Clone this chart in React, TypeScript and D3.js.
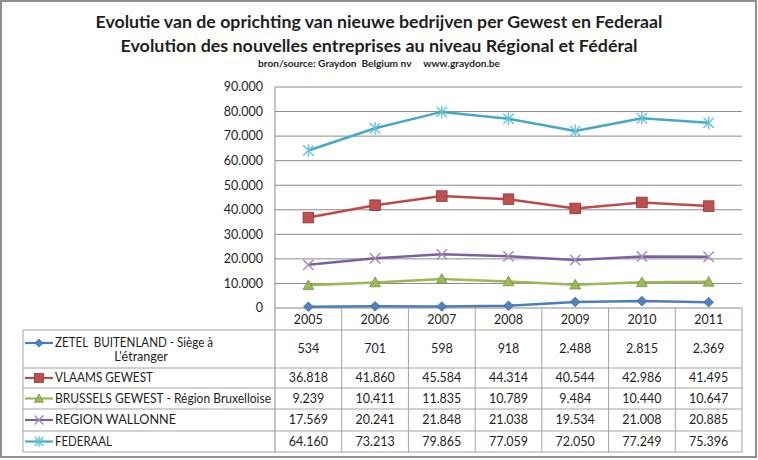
import React from 'react';
import * as d3 from 'd3';

const years = ['2005', '2006', '2007', '2008', '2009', '2010', '2011'];
const zetel = [534, 701, 598, 918, 2488, 2815, 2369];
const vlaams = [36818, 41860, 45584, 44314, 40544, 42986, 41495];
const brussels = [9239, 10411, 11835, 10789, 9484, 10440, 10647];
const wallonne = [17569, 20241, 21848, 21038, 19534, 21008, 20885];
const federaal = [64160, 73213, 79865, 77059, 72050, 77249, 75396];
const yTicks = [0, 10000, 20000, 30000, 40000, 50000, 60000, 70000, 80000, 90000];

const seriesLabels: string[][] = [
  ['ZETEL  BUITENLAND - Siège à', "L'étranger"],
  ['VLAAMS GEWEST'],
  ['BRUSSELS GEWEST - Région Bruxelloise'],
  ['REGION WALLONNE'],
  ['FEDERAAL'],
];
const titleLines = [
  'Evolutie van de oprichting van nieuwe bedrijven per Gewest en Federaal',
  'Evolution des nouvelles entreprises au niveau Régional et Fédéral',
];
const sourceText = 'bron/source: Graydon  Belgium nv     www.graydon.be';

const series = [
  { values: zetel, line: '#4A7EBB', fill: '#4F81BD', stroke: '#3A67A0', marker: 'diamond' },
  { values: vlaams, line: '#BE4B48', fill: '#C0504D', stroke: '#8C3836', marker: 'square' },
  { values: brussels, line: '#98B954', fill: '#9BBB59', stroke: '#76923C', marker: 'triangle' },
  { values: wallonne, line: '#7D60A0', fill: 'none', stroke: '#9F8AC0', marker: 'x' },
  { values: federaal, line: '#46AAC5', fill: 'none', stroke: '#66C3DA', marker: 'star' },
];

const labelWidths = [158, 98, 216, 121, 57];

const fmt = d3.formatLocale({ decimal: ',', thousands: '.', grouping: [3], currency: ['', ''] }).format(',d');

function Marker({ type, cx, cy, fill, stroke, scale = 1 }: any) {
  const s = scale;
  if (type === 'diamond') {
    const r = 4.8 * s;
    return <path d={`M${cx},${cy - r}L${cx + r},${cy}L${cx},${cy + r}L${cx - r},${cy}Z`} fill={fill} stroke={stroke} strokeWidth={0.8} />;
  }
  if (type === 'square') {
    const r = 5.3 * s;
    return <rect x={cx - r} y={cy - r} width={2 * r} height={2 * r} fill={fill} stroke={stroke} strokeWidth={0.8} />;
  }
  if (type === 'triangle') {
    const r = 5.4 * s;
    return <path d={`M${cx},${cy - r}L${cx + r},${cy + r * 0.8}L${cx - r},${cy + r * 0.8}Z`} fill={fill} stroke={stroke} strokeWidth={0.8} />;
  }
  if (type === 'x') {
    const r = 5.2 * s;
    return <path d={`M${cx - r},${cy - r}L${cx + r},${cy + r}M${cx - r},${cy + r}L${cx + r},${cy - r}`} stroke={stroke} strokeWidth={1.4} fill="none" />;
  }
  const r = 5.2 * s;
  return <path d={`M${cx - r},${cy - r}L${cx + r},${cy + r}M${cx - r},${cy + r}L${cx + r},${cy - r}M${cx},${cy - r * 1.2}L${cx},${cy + r * 1.2}`} stroke={stroke} strokeWidth={1.4} fill="none" />;
}

export default function App() {
  const W = 758, H = 460;
  const left = 275, right = 742, top = 87, bottom = 308;
  const tableLeft = 23;
  const rowEdges = [330, 368, 388, 409, 431, 452];
  const x = d3.scaleBand<string>().domain(years).range([left, right]);
  const bw = x.bandwidth();
  const cxOf = (i: number) => (x(years[i]) as number) + bw / 2;
  const y = d3.scaleLinear().domain([0, 90000]).range([bottom, top]);
  const line = d3.line<number>().x((_, i) => cxOf(i)).y((d) => y(d));
  const font = 'Lato, "Noto Sans", sans-serif';
  const textColor = '#1f1f1f';
  const gridColor = '#8a8a8a';
  const tableColor = '#a3a3a3';
  const pre = { whiteSpace: 'pre' as const };

  return (
    <svg width={W} height={H} style={{ position: 'absolute', left: 0, top: 0, background: '#fff' }} fontFamily={font}>
      <rect x={0} y={0} width={W} height={H} fill="#fff" />
      <rect x={1} y={1} width={755} height={456} fill="none" stroke="#8f8f8f" strokeWidth={2} />

      {/* Titles */}
      <text x={379} y={28} textAnchor="middle" fontSize={17} fontWeight="bold" fill={textColor} textLength={567} lengthAdjust="spacingAndGlyphs">{titleLines[0]}</text>
      <text x={379} y={52} textAnchor="middle" fontSize={17} fontWeight="bold" fill={textColor} textLength={517} lengthAdjust="spacingAndGlyphs">{titleLines[1]}</text>
      <text x={379} y={67} textAnchor="middle" fontSize={9.5} fontWeight="bold" fill={textColor} style={pre} textLength={242} lengthAdjust="spacingAndGlyphs">{sourceText}</text>

      {/* Gridlines & y labels */}
      {yTicks.map((t) => (
        <g key={t}>
          <line x1={left} x2={right} y1={y(t)} y2={y(t)} stroke={gridColor} strokeWidth={1} />
          <text x={263} y={y(t)} dy="0.35em" textAnchor="end" fontSize={12.5} fill={textColor}>{fmt(t)}</text>
        </g>
      ))}
      <line x1={left} x2={left} y1={top} y2={rowEdges[rowEdges.length - 1]} stroke={gridColor} strokeWidth={1} />

      {/* Table grid */}
      {years.map((yr) => (
        <line key={yr} x1={(x(yr) as number) + bw} x2={(x(yr) as number) + bw} y1={bottom} y2={rowEdges[rowEdges.length - 1]} stroke={tableColor} strokeWidth={1} />
      ))}
      {rowEdges.map((ry) => (
        <line key={ry} x1={tableLeft} x2={right} y1={ry} y2={ry} stroke={tableColor} strokeWidth={1} />
      ))}
      <line x1={tableLeft} x2={tableLeft} y1={rowEdges[0]} y2={rowEdges[rowEdges.length - 1]} stroke={tableColor} strokeWidth={1} />

      {/* Year headers */}
      {years.map((yr, i) => (
        <text key={yr} x={cxOf(i)} y={(bottom + rowEdges[0]) / 2 + 1} dy="0.35em" textAnchor="middle" fontSize={12.5} fill={textColor}>{yr}</text>
      ))}

      {/* Table rows */}
      {series.map((s, si) => {
        const y0 = rowEdges[si], y1 = rowEdges[si + 1];
        const mid = (y0 + y1) / 2;
        const lab = seriesLabels[si];
        const keyY = lab.length > 1 ? mid - 6 : mid;
        return (
          <g key={si}>
            <line x1={25} x2={53} y1={keyY} y2={keyY} stroke={s.line} strokeWidth={2.2} />
            <Marker type={s.marker} cx={39} cy={keyY} fill={s.fill} stroke={s.stroke} scale={0.85} />
            {lab.length > 1 ? (
              <>
                <text x={55} y={mid - 6} dy="0.35em" fontSize={12.5} fill={textColor} style={pre} textLength={labelWidths[si]} lengthAdjust="spacingAndGlyphs">{lab[0]}</text>
                <text x={141} y={mid + 8} dy="0.35em" textAnchor="middle" fontSize={12.5} fill={textColor}>{lab[1]}</text>
              </>
            ) : (
              <text x={55} y={mid} dy="0.35em" fontSize={12.5} fill={textColor} textLength={labelWidths[si]} lengthAdjust="spacingAndGlyphs">{lab[0]}</text>
            )}
            {s.values.map((v, i) => (
              <text key={i} x={cxOf(i)} y={mid} dy="0.35em" textAnchor="middle" fontSize={12.5} fill={textColor}>{fmt(v)}</text>
            ))}
          </g>
        );
      })}

      {/* Series lines */}
      {series.map((s, si) => (
        <g key={'s' + si}>
          <path d={line(s.values) as string} fill="none" stroke={s.line} strokeWidth={2.5} strokeLinejoin="round" />
          {s.values.map((v, i) => (
            <Marker key={i} type={s.marker} cx={cxOf(i)} cy={y(v)} fill={s.fill} stroke={s.stroke} />
          ))}
        </g>
      ))}
    </svg>
  );
}
